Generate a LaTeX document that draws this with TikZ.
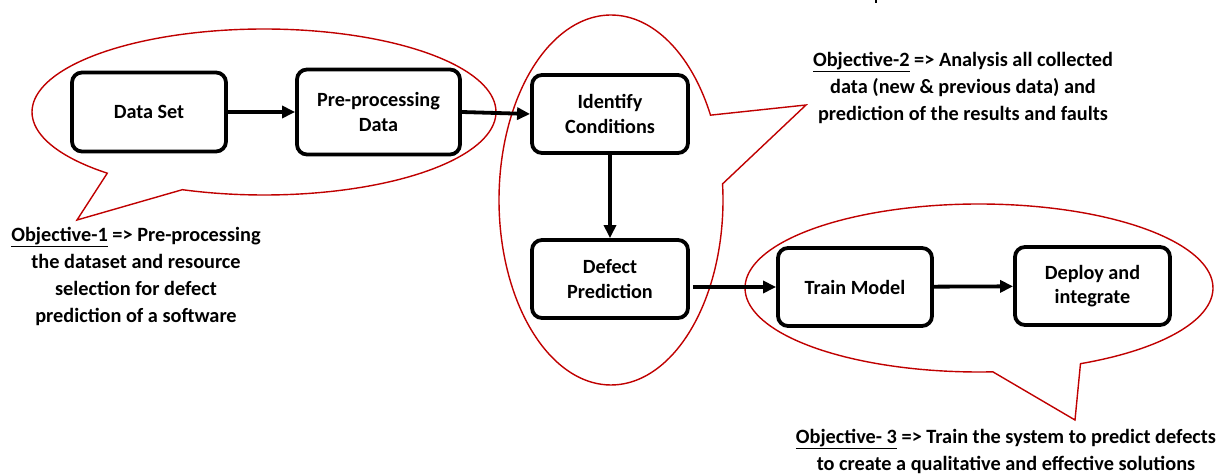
\documentclass[tikz,border=0pt]{standalone}
\usepackage{fontspec}
\setmainfont{Carlito}
\usetikzlibrary{arrows.meta}
\definecolor{bubblered}{RGB}{192,0,0}
\tikzset{
  procbox/.style={draw=black, line width=3.8bp, rounded corners=10bp, fill=white,
    minimum width=154bp, minimum height=79bp, align=center, inner sep=2bp,
    font=\bfseries\fontsize{20.2bp}{24.5bp}\selectfont},
  flow/.style={line width=3.8bp, -{Triangle[length=13bp,width=12bp]}},
  bubble/.style={draw=bubblered, line width=1.4bp},
  objtext/.style={align=center, inner sep=0pt, font=\bfseries\fontsize{20.3bp}{27bp}\selectfont}
}
\begin{document}
\begin{tikzpicture}[x=1bp,y=-1bp]
\useasboundingbox[fill=white] (0,0) rectangle (1225,475);

% speech bubbles
\draw[bubble] plot[domain=132.5:470.6,samples=150,smooth] ({264+232*cos(\x)},{112+83*sin(\x)}) -- (77,220) -- cycle;
\draw[bubble] plot[domain=-5:332.7,samples=150,smooth] ({611+112*cos(\x)},{200+185*sin(\x)}) -- (806,105) -- cycle;
\draw[bubble] plot[domain=86.6:424.3,samples=150,smooth] ({979+234*cos(\x)},{288+84*sin(\x)}) -- (1075,420) -- cycle;

% process boxes
\node[procbox] (ds) at (149,112) {Data Set};
\node[procbox, minimum width=163bp, minimum height=85bp] (pp) at (378.5,112) {Pre-processing\\Data};
\node[procbox, minimum width=156bp, minimum height=78bp] (ic) at (610,114) {Identify\\Conditions};
\node[procbox, minimum width=156bp, minimum height=78bp] (dp) at (610,279) {Defect\\Prediction};
\node[procbox, minimum width=154bp, minimum height=78bp] (tm) at (855,287) {Train Model};
\node[procbox, minimum width=155bp, minimum height=78bp] (di) at (1092.5,286) {Deploy and\\integrate};

% connectors
\draw[flow] (ds) -- (pp);
\draw[flow] (pp.east) -- (ic.west);
\draw[flow] (ic) -- (dp);
\draw[flow] ([xshift=3bp]dp.east |- tm.west) -- (tm.west);
\draw[flow] (tm) -- (di);

% objective texts
\node[objtext] (o1) at (136,276) {\underline{Objective-1} => Pre-processing\\the dataset and resource\\selection for defect\\prediction of a software};
\node[objtext] (o2) at (963,88) {\underline{Objective-2} => Analysis all collected\\data (new \& previous data) and\\prediction of the results and faults};
\node[objtext] (o3) at (1006,451) {\underline{Objective- 3} => Train the system to predict defects\\to create a qualitative and effective solutions};

% cut-off mark at top edge
\draw[line width=1.5bp] (876,0) -- (876,3.5);
\end{tikzpicture}
\end{document}
